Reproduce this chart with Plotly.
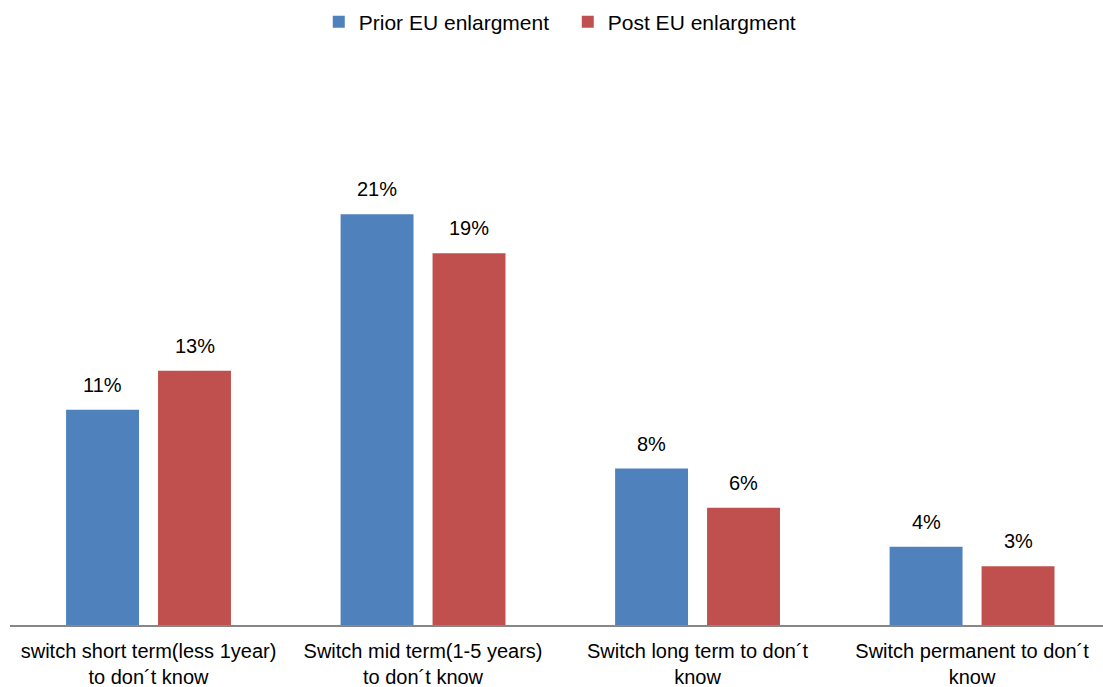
import plotly.graph_objects as go

categories = [
    "switch short term(less 1year)<br>to don´t know",
    "Switch mid term(1-5 years)<br>to don´t know",
    "Switch long term to don´t<br>know",
    "Switch permanent to don´t<br>know",
]
prior_eu = [11, 21, 8, 4]
post_eu = [13, 19, 6, 3]

BLUE = "#4F81BD"
RED = "#C0504D"
FONT = "Liberation Sans, Arial, sans-serif"

fig = go.Figure()
fig.add_trace(go.Bar(name="Prior EU enlargment", x=categories, y=prior_eu,
                     marker=dict(color=BLUE, line=dict(width=0))))
fig.add_trace(go.Bar(name="Post EU enlargment", x=categories, y=post_eu,
                     marker=dict(color=RED, line=dict(width=0))))

# value labels above each bar
for vals, shift in ((prior_eu, -46), (post_eu, 46)):
    for cat, v in zip(categories, vals):
        fig.add_annotation(x=cat, y=v, text=f"{v}%", showarrow=False,
                           xshift=shift, yshift=12, yanchor="bottom",
                           font=dict(family=FONT, size=20, color="#000000"))

fig.update_layout(
    width=1103, height=687,
    margin=dict(l=10, r=0, t=136, b=62),
    paper_bgcolor="white", plot_bgcolor="white",
    barmode="group", bargap=0.33, bargroupgap=0.207,
    font=dict(family=FONT, size=20, color="#000000"),
    showlegend=True,
    legend=dict(orientation="h", xref="container", yref="container",
                x=0.289, xanchor="left", y=0.968, yanchor="middle",
                entrywidth=204, entrywidthmode="pixels",
                font=dict(family=FONT, size=21, color="#000000"),
                itemclick=False),
)
fig.update_xaxes(range=[-0.5046, 3.477], showline=True, linecolor="#878787",
                 linewidth=1.5, ticks="", showgrid=False, ticklabelstandoff=7,
                 tickfont=dict(family=FONT, size=20, color="#000000"))
fig.update_yaxes(range=[0, 25], visible=False, showgrid=False, zeroline=False)

fig.write_html("out.html")
